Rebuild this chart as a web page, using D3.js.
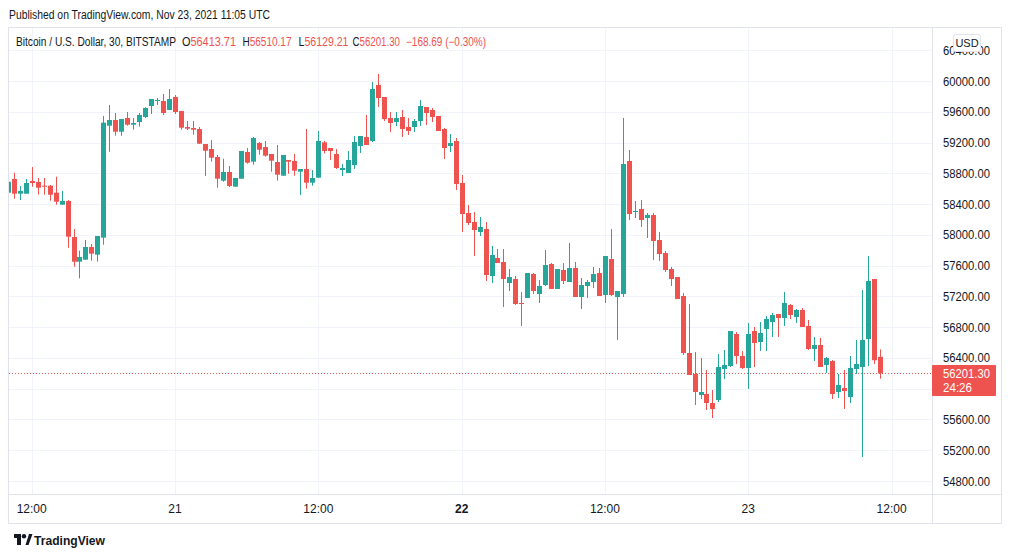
<!DOCTYPE html>
<html>
<head>
<meta charset="utf-8">
<script src="https://cdn.jsdelivr.net/npm/d3@7"></script>
<style>
html,body{margin:0;padding:0;background:#fff;}
svg{display:block;font-family:"Liberation Sans","DejaVu Sans",sans-serif;}
</style>
</head>
<body>
<svg id="chart" width="1012" height="558"></svg>
<script>
// ---- data: BTC/USD 30m candles, starting Nov 20 2021 10:00 UTC ----
const startTime = Date.UTC(2021, 10, 20, 10, 0);
const opens = [58548,58726,58535,58535,58700,58687,58639,58639,58548,58392,58440,57972,57651,57677,57842,57742,57964,59419,59493,59341,59519,59432,59467,59532,59675,59744,59740,59623,
59792,59610,59402,59389,59376,59181,59116,59012,58704,58817,58626,58730,59077,58951,59194,59142,59051,58947,58769,58973,58960,58821,58856,58678,
58743,59203,59129,59051,58843,58804,58908,59155,59272,59220,59948,59792,59519,59467,59532,59402,59402,59480,59662,59623,59545,59376,59155,59220,
58674,58284,58167,58037,58076,57465,57699,57647,57374,57426,57114,57179,57491,57231,57348,57621,57296,57543,57387,57569,57192,57335,57387,57504,
57218,57686,57192,57231,58960,58297,58336,58219,58258,57933,57764,57556,57452,57205,56464,56191,55918,55931,55814,55853,56256,56295,56711,56425,
56269,56750,56607,56776,56867,56971,56919,57088,56932,57023,56815,56516,56568,56308,56360,55957,56009,55892,56256,56282,56646,57426,56413.71];
const highs = [58700,58808,58635,58726,58882,58739,58739,58648,58756,58570,58453,58076,57794,57933,57881,57985,59545,59688,59584,59506,59597,59519,59584,59660,59766,59779,59831,59896,
59818,59610,59480,59480,59402,59181,59233,59038,58990,58895,58739,59090,59129,59272,59207,59220,59051,59168,59038,58973,59051,58856,59376,58843,
59350,59220,59129,59116,58921,59090,59285,59285,59558,59987,60091,59792,59597,59597,59623,59519,59506,59753,59662,59649,59545,59389,59311,59259,
58778,58388,58297,58232,58167,57855,57816,57816,57556,57465,57257,57504,57504,57413,57803,57634,57556,57634,57894,57647,57439,57413,57582,57569,
57725,58076,57270,59519,59103,58440,58453,58284,58284,58037,57790,57582,57452,57244,57101,56477,56399,56243,55983,56451,56503,56750,56737,56490,
56854,56802,56867,56945,56984,56971,57257,57101,57036,57049,56893,56672,56659,56412,56373,56191,56243,56425,56633,57283,57725,57426,56510.17];
const lows = [58530,58470,58453,58535,58626,58522,58522,58444,58392,58392,57833,57586,57435,57677,57664,57651,57872,59081,59289,59289,59419,59367,59406,59520,59571,59688,59558,59623,
59571,59367,59363,59302,59181,58765,58951,58613,58691,58622,58626,58730,58925,58912,59042,59016,58821,58704,58769,58795,58769,58518,58600,58639,
58743,59060,58973,58856,58765,58804,58856,59064,59168,59207,59662,59480,59337,59415,59272,59298,59337,59415,59428,59467,59350,58986,59077,58583,
58037,58128,57725,57985,57400,57374,57634,57062,57270,57088,56815,57179,57231,57114,57335,57296,57296,57361,57387,57192,57036,57179,57309,57205,
57114,57205,56633,57192,58193,58219,58102,57959,57673,57660,57517,57335,57166,56438,56178,55788,55866,55723,55619,55827,56126,56282,56321,56256,
55996,56282,56490,56490,56672,56672,56815,56906,56854,56802,56503,56360,56282,56204,55866,55879,55736,55814,56191,55112,56295,56321,56129.21];
const closes = [58691,58535,58570,58674,58674,58613,58626,58522,58431,58440,57976,57651,57712,57842,57755,57985,59458,59493,59341,59506,59432,59454,59558,59649,59766,59753,59584,59766,
59597,59393,59380,59367,59185,59094,59003,58730,58817,58635,58739,59090,58938,59259,59107,59029,58964,58782,59038,58951,58834,58856,58678,58739,
59220,59090,59090,58869,58869,58973,59207,59285,59168,59896,59779,59506,59454,59519,59376,59350,59480,59675,59584,59532,59350,59129,59194,58661,
58271,58154,58063,58102,57478,57738,57634,57426,57452,57101,57101,57504,57270,57335,57608,57296,57556,57400,57569,57192,57348,57387,57491,57205,
57725,57218,57270,58921,58271,58310,58193,58258,57920,57751,57543,57426,57166,56464,56178,55957,55957,55814,55736,56282,56308,56750,56425,56269,
56711,56594,56724,56906,56958,56919,57114,56958,57023,56802,56516,56568,56282,56399,55931,56048,55970,56269,56321,56633,57400,56369.99,56201.30];

const priceTicks = [54800,55200,55600,56000,56400,56800,57200,57600,58000,58400,58800,59200,59600,60000,60400];
const timeTickLabels = ["12:00","21","12:00","22","12:00","23","12:00"];
const timeTickDates = [Date.UTC(2021,10,20,12),Date.UTC(2021,10,21,0),Date.UTC(2021,10,21,12),Date.UTC(2021,10,22,0),Date.UTC(2021,10,22,12),Date.UTC(2021,10,23,0),Date.UTC(2021,10,23,12)];
const lastPrice = 56201.30;
const countdown = "24:26";
const symbolTitle = "Bitcoin / U.S. Dollar, 30, BITSTAMP";
const headerText = "Published on TradingView.com, Nov 23, 2021 11:05 UTC";

// ---- rendering ----
const UP = "#26a69a", DOWN = "#ef5350", GRID = "#f0f3fa", BORDER = "#e0e3eb", TEXT = "#131722";
const svg = d3.select("#chart");
svg.append("rect").attr("width",1012).attr("height",558).attr("fill","#fff");

const plot = {l:9, t:28, r:932, b:494};
const x = d3.scaleUtc().domain([Date.UTC(2021,10,20,12), Date.UTC(2021,10,23,12)]).range([31.7, 891.6]);
const y = d3.scaleLinear().domain([54800, 60000]).range([481, 81]);

const candles = opens.map((o,i)=>({t:new Date(startTime + i*1800000), o, h:highs[i], l:lows[i], c:closes[i]}));

function fitText(sel, w){ return sel.attr("textLength",w).attr("lengthAdjust","spacingAndGlyphs"); }

// clip
svg.append("clipPath").attr("id","plotclip").append("rect")
  .attr("x",plot.l).attr("y",plot.t).attr("width",plot.r-plot.l).attr("height",plot.b-plot.t);

// grid
const grid = svg.append("g").attr("clip-path","url(#plotclip)");
grid.selectAll("line.h").data(priceTicks).join("line")
  .attr("x1",plot.l).attr("x2",plot.r)
  .attr("y1",d=>Math.round(y(d))+0.5).attr("y2",d=>Math.round(y(d))+0.5)
  .attr("stroke",GRID).attr("stroke-width",1);
grid.selectAll("line.v").data(timeTickDates).join("line")
  .attr("x1",d=>Math.round(x(d))+0.5).attr("x2",d=>Math.round(x(d))+0.5)
  .attr("y1",plot.t).attr("y2",plot.b)
  .attr("stroke",GRID).attr("stroke-width",1);

// candles
const cg = svg.append("g").attr("clip-path","url(#plotclip)");
const cs = cg.selectAll("g.c").data(candles).join("g");
cs.append("line")
  .attr("x1",d=>Math.round(x(d.t))+0.5).attr("x2",d=>Math.round(x(d.t))+0.5)
  .attr("y1",d=>y(d.h)).attr("y2",d=>y(d.l))
  .attr("stroke",d=>d.c>=d.o?UP:DOWN).attr("stroke-width",1);
cs.append("rect")
  .attr("x",d=>Math.round(x(d.t))-2).attr("width",5)
  .attr("y",d=>y(Math.max(d.o,d.c)))
  .attr("height",d=>Math.max(1, Math.abs(y(d.o)-y(d.c))))
  .attr("fill",d=>d.c>=d.o?UP:DOWN);

// last price dotted line
svg.append("line").attr("x1",plot.l).attr("x2",plot.r)
  .attr("y1",Math.round(y(lastPrice))+0.5).attr("y2",Math.round(y(lastPrice))+0.5)
  .attr("stroke",DOWN).attr("stroke-width",1).attr("stroke-dasharray","1,2");

// frame
svg.append("rect").attr("x",8.5).attr("y",27.5).attr("width",993).attr("height",496)
  .attr("fill","none").attr("stroke",BORDER);
svg.append("line").attr("x1",932.5).attr("x2",932.5).attr("y1",27.5).attr("y2",523.5).attr("stroke",BORDER);
svg.append("line").attr("x1",8.5).attr("x2",1001.5).attr("y1",494.5).attr("y2",494.5).attr("stroke",BORDER);

// price axis labels (those hidden under the last-price box are not drawn)
const ly = Math.round(y(lastPrice));
const visibleTicks = priceTicks.filter(d => Math.abs(y(d) - (ly + 7.5)) > 20);
fitText(svg.append("g").selectAll("text").data(visibleTicks).join("text")
  .attr("x",943).attr("y",d=>y(d)+4.5)
  .attr("font-size",12).attr("fill",TEXT)
  .text(d=>d3.format(".2f")(d)), 47);

// USD box (sits over the top, partly hidden label as in the original)
svg.append("rect").attr("x",953.5).attr("y",34.5).attr("width",27).attr("height",17).attr("rx",2)
  .attr("fill","#fff").attr("stroke",BORDER);
svg.append("text").attr("x",967).attr("y",47).attr("text-anchor","middle")
  .attr("font-size",11).attr("fill",TEXT).text("USD");

// last price label
svg.append("rect").attr("x",932).attr("y",ly-8).attr("width",64).attr("height",31).attr("fill",DOWN).attr("rx",1);
fitText(svg.append("text").attr("x",943).attr("y",ly+5).attr("font-size",12).attr("fill","#fff").text(d3.format(".2f")(lastPrice)), 47);
fitText(svg.append("text").attr("x",943).attr("y",ly+19).attr("font-size",12).attr("fill","#fff").text(countdown), 29);

// time axis labels
svg.append("g").selectAll("text").data(timeTickDates).join("text")
  .attr("x",d=>x(d)).attr("y",513).attr("text-anchor","middle")
  .attr("font-size",12).attr("fill",TEXT)
  .attr("font-weight",(d,i)=>timeTickLabels[i]==="22"?"bold":"normal")
  .text((d,i)=>timeTickLabels[i]);

// header
fitText(svg.append("text").attr("x",9).attr("y",19).attr("font-size",12).attr("fill",TEXT)
  .text(headerText), 261);

// legend
const last = candles[candles.length-1];
const prev = candles[candles.length-2];
const lg = svg.append("g").attr("font-size",12);
fitText(lg.append("text").attr("x",16).attr("y",46).attr("fill",TEXT).text(symbolTitle), 160);
const ohlc = [["O",last.o,182,54],["H",last.h,242.5,49],["L",last.l,298.5,50],["C",last.c,352.5,47.5]];
ohlc.forEach(([k,v,kx,w])=>{
  const t = lg.append("text").attr("x",kx).attr("y",46);
  t.append("tspan").attr("fill",TEXT).text(k);
  t.append("tspan").attr("fill",DOWN).text(d3.format(".2f")(v));
  fitText(t, w);
});
const chg = last.c - prev.c;
const chgPct = chg / prev.c * 100;
fitText(lg.append("text").attr("x",406).attr("y",46).attr("fill",DOWN)
  .text("\u2212" + d3.format(".2f")(Math.abs(chg)) + " (\u2212" + d3.format(".2f")(Math.abs(chgPct)) + "%)"), 80);

// TradingView logo
const logo = svg.append("g").attr("transform","translate(14,534)");
logo.append("path").attr("d","M0 0 H7 V11 H3 V4 H0 Z").attr("fill",TEXT);
logo.append("circle").attr("cx",10).attr("cy",2.2).attr("r",2.2).attr("fill",TEXT);
logo.append("path").attr("d","M11.5 11 L15 0 H18.5 L14.5 11 Z").attr("fill",TEXT);
fitText(svg.append("text").attr("x",34).attr("y",545).attr("font-size",13).attr("font-weight","bold")
  .attr("fill",TEXT).text("TradingView"), 71);
</script>
</body>
</html>
